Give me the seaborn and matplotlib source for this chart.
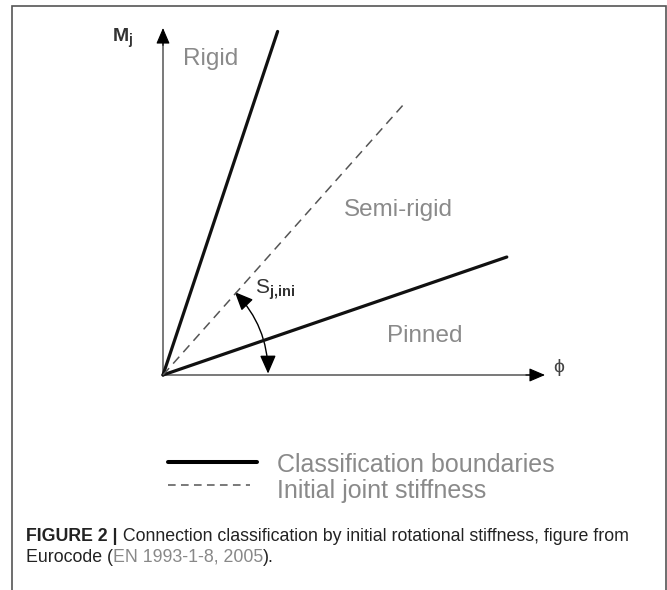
import matplotlib
matplotlib.use("Agg")
import matplotlib.pyplot as plt
import seaborn as sns
from matplotlib.lines import Line2D
from matplotlib.patches import FancyArrowPatch, Rectangle

# end points of the lines (origin is at 0,0)
boundary_names = ["Rigid", "Pinned"]
boundary_phi = [0.30, 0.90]
boundary_M = [0.99, 0.34]
stiffness_phi = 0.63
stiffness_M = 0.78

region_labels = ["Rigid", "Semi-rigid", "Pinned"]
legend_labels = ["Classification boundaries", "Initial joint stiffness"]
caption_bold = "FIGURE 2 |"
caption_1 = " Connection classification by initial rotational stiffness, figure from"
caption_2 = ["Eurocode (", "EN 1993-1-8, 2005", ")."]

sns.set_style("white")
plt.rcParams["font.family"] = ["Liberation Sans", "DejaVu Sans"]
plt.rcParams["mathtext.fontset"] = "custom"
plt.rcParams["mathtext.rm"] = "Liberation Sans"
plt.rcParams["mathtext.bf"] = "Liberation Sans:bold"

W, H = 667, 590
fig = plt.figure(figsize=(W / 100, H / 100), dpi=100)
fig.patch.set_facecolor("white")

# diagram axes: origin at pixel (163, 375), x tip at 545, y tip at 28
ax = fig.add_axes([163 / W, 1 - 375 / H, 382 / W, 347 / H])
ax.set_xlim(0, 1)
ax.set_ylim(0, 1)
ax.axis("off")

# coordinate axes with arrow heads
ax.plot([0, 0.985], [0, 0], color="#555555", lw=1.1, clip_on=False)
ax.plot([0, 0], [0, 0.985], color="#555555", lw=1.1, clip_on=False)
head = dict(arrowstyle="-|>,head_length=0.7,head_width=0.3", color="black", lw=0.8,
            mutation_scale=14, shrinkA=0, shrinkB=0)
ax.annotate("", xy=(1.0, 0), xytext=(0.95, 0), arrowprops=head, annotation_clip=False)
ax.annotate("", xy=(0, 1.0), xytext=(0, 0.95), arrowprops=head, annotation_clip=False)

# classification boundaries and initial stiffness
for name, p, m in zip(boundary_names, boundary_phi, boundary_M):
    sns.lineplot(x=[0, p], y=[0, m], ax=ax, color="#111111", lw=2.3, clip_on=False)
sns.lineplot(x=[0, stiffness_phi], y=[0, stiffness_M], ax=ax, color="#555555",
             lw=1.1, dashes=False, clip_on=False).lines[-1].set_dashes((6, 4))

# S_j,ini arc arrow
arc = FancyArrowPatch((0.188, 0.239), (0.275, 0.004),
                      connectionstyle="arc3,rad=-0.2",
                      arrowstyle="<|-|>,head_length=0.8,head_width=0.35",
                      mutation_scale=14, color="black", lw=1.0,
                      shrinkA=0, shrinkB=0)
ax.add_patch(arc)

# region labels
label_style = dict(color="#8a8a8a", fontsize=17.5, ha="left", va="baseline")
ax.text(0.052, 0.893, region_labels[0], **label_style)
ax.text(0.474, 0.457, region_labels[1], **label_style)
ax.text(0.586, 0.095, region_labels[2], **label_style)

ax.text(0.241, 0.236, r"$\mathrm{S}_{\mathbf{j{,}ini}}$", color="#333333",
        fontsize=15, ha="left", va="baseline")
ax.text(-0.134, 0.96, r"$\mathbf{M}_{\mathbf{j}}$", color="#333333",
        fontsize=14, ha="left", va="baseline", clip_on=False)
ax.text(1.037, 0.023, "ϕ", color="#444444", fontsize=14, ha="center", va="center")

# legend drawn below the diagram
fig.add_artist(Line2D([168 / W, 257 / W], [1 - 462 / H] * 2, color="black", lw=2.9))
fig.add_artist(Line2D([168 / W, 250 / W], [1 - 485 / H] * 2, color="#555555", lw=1.1,
                      dashes=(5, 3.5)))
fig.text(277 / W, 1 - 472 / H, legend_labels[0], color="#8a8a8a", fontsize=18,
         ha="left", va="baseline")
fig.text(277 / W, 1 - 498 / H, legend_labels[1], color="#8a8a8a", fontsize=18,
         ha="left", va="baseline")

# caption
renderer = fig.canvas.get_renderer()


def put_pieces(pieces, x, y):
    for s, weight, color in pieces:
        t = fig.text(x, y, s, fontsize=12.8, fontweight=weight, color=color,
                     ha="left", va="baseline")
        x += t.get_window_extent(renderer=renderer).width / W


put_pieces([(caption_bold, "bold", "#222222"), (caption_1, "normal", "#222222")],
           26 / W, 1 - 541 / H)
put_pieces([(caption_2[0], "normal", "#222222"), (caption_2[1], "normal", "#888888"),
            (caption_2[2], "normal", "#222222")], 26 / W, 1 - 562 / H)

# figure frame (open at the bottom)
fig.add_artist(Rectangle((12 / W, -0.05), (666 - 12) / W, 1 - 6 / H + 0.05,
                         transform=fig.transFigure, fill=False, ec="#555555", lw=1.2))

fig.savefig("out.png", dpi=100)
